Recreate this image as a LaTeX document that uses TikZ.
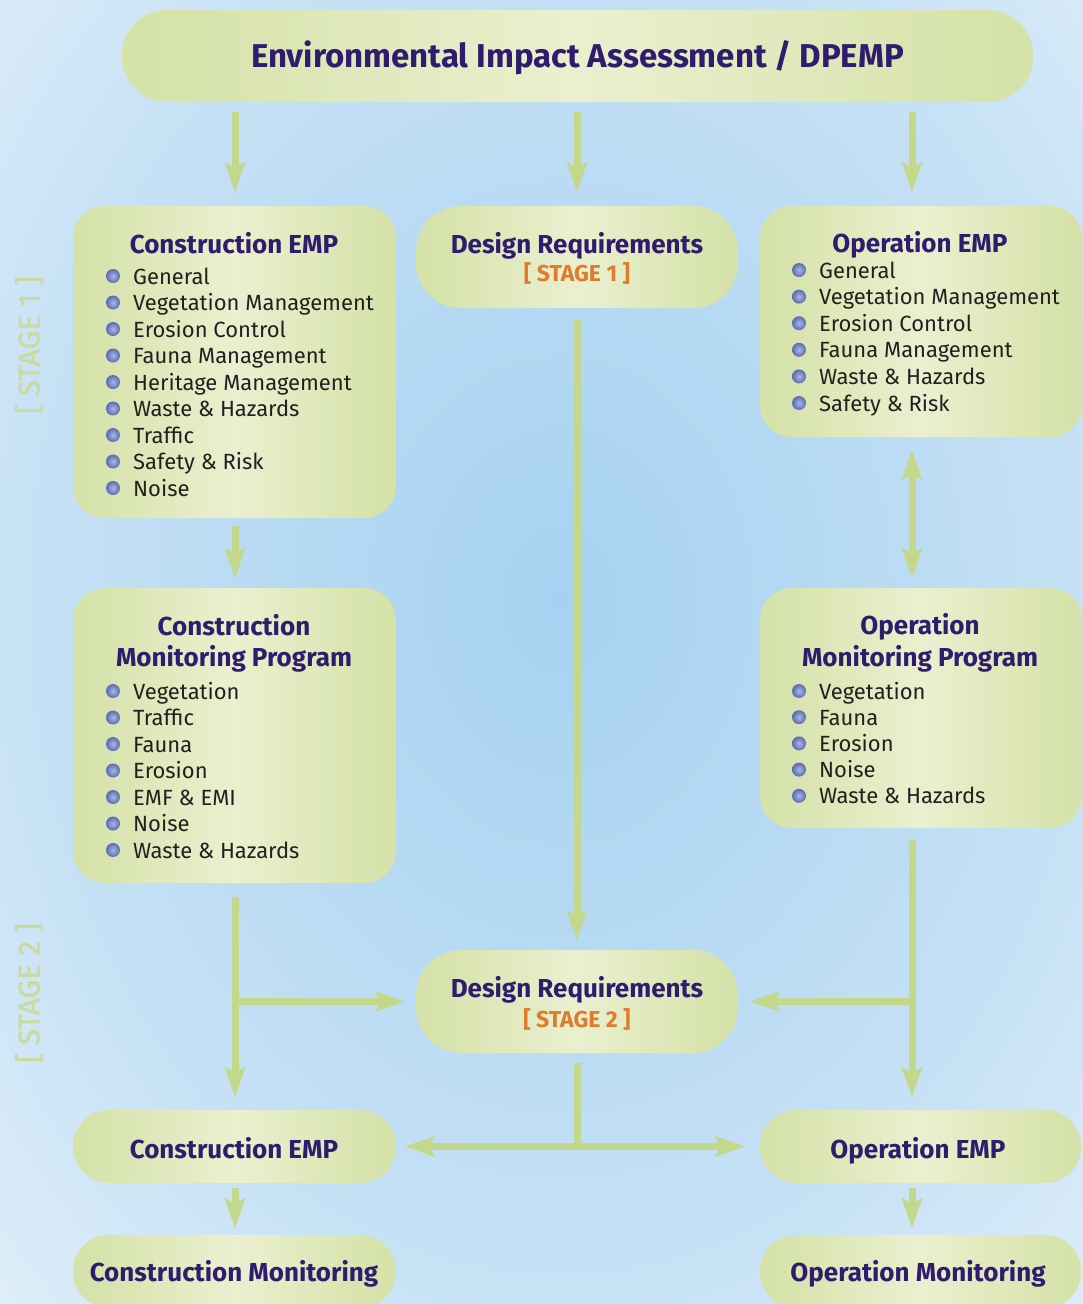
\documentclass[tikz,border=0pt]{standalone}
\usepackage{fontspec}
\setmainfont{Fira Sans}
\newfontfamily\sidefont[FakeBold=1.2]{Fira Sans}
\usetikzlibrary{arrows.meta}
\definecolor{bgin}{HTML}{A6D2F1}
\definecolor{bgmid}{HTML}{C6E1F5}
\definecolor{bgout}{HTML}{F6FAFD}
\definecolor{gdark}{HTML}{C9DA93}
\definecolor{glight}{HTML}{EAF0CF}
\definecolor{ink}{HTML}{2F1C6E}
\definecolor{txt}{HTML}{231F20}
\definecolor{arrc}{HTML}{C4D88C}
\definecolor{stagec}{HTML}{E07B2C}
\definecolor{sidec}{HTML}{C9DB9E}
\definecolor{bulin}{HTML}{AAB6E8}
\definecolor{bulout}{HTML}{5B6AB2}
\pgfdeclareradialshading{bgshade}{\pgfpoint{0bp}{0bp}}{color(0bp)=(bgin); color(22bp)=(bgmid); color(44bp)=(bgout); color(100bp)=(bgout)}
\pgfdeclarehorizontalshading{boxshade}{100bp}{color(0bp)=(gdark); color(28bp)=(gdark!60!glight); color(50bp)=(glight); color(72bp)=(gdark!60!glight); color(100bp)=(gdark)}
\begin{document}
\begin{tikzpicture}[x=1pt,y=-1pt,
  box/.style={rectangle, rounded corners=#1, draw=none, inner sep=0pt, shading=boxshade},
  hd/.style={font=\fontsize{26}{30}\selectfont\bfseries, text=ink, inner sep=0pt, anchor=base},
  topt/.style={font=\fontsize{33}{38}\selectfont\bfseries, text=ink, inner sep=0pt, anchor=base},
  stg/.style={font=\fontsize{23}{26}\selectfont\bfseries, text=stagec, inner sep=0pt, anchor=base},
  side/.style={font=\fontsize{30}{34}\sidefont, text=sidec, inner sep=0pt, rotate=90},
  it/.style={font=\fontsize{22}{26}\selectfont, text=txt, inner sep=0pt, anchor=base west},
  bul/.style={circle, minimum size=14pt, inner sep=0pt, inner color=bulin, outer color=bulout},
  >={Stealth[length=30pt,width=21pt,inset=6pt,line width=0.5pt]},
  arr/.style={draw=arrc, line width=7pt}
]
\path[use as bounding box, clip] (0,0) rectangle (1083,1304);
\shade[shading=bgshade] (-40,-160) rectangle (1160,1360);

% column coordinates
\coordinate (colC) at (235,0);
\coordinate (colD) at (577,0);
\coordinate (colO) at (912,0);

% boxes
\node[box=45pt, minimum width=911pt, minimum height=92pt] (top) at (577.5,56) {};
\node[box=32pt, minimum width=323pt, minimum height=312pt] (cemp) at (234.5,362) {};
\node[box=45pt, minimum width=322pt, minimum height=102pt] (des1) at (577,257) {};
\node[box=32pt, minimum width=322pt, minimum height=231pt] (opemp) at (921,321.5) {};
\node[box=32pt, minimum width=323pt, minimum height=295pt] (cmp) at (234.5,735.5) {};
\node[box=32pt, minimum width=322pt, minimum height=240pt] (omp) at (921,708) {};
\node[box=45pt, minimum width=322pt, minimum height=103pt] (des2) at (577,1001.5) {};
\node[box=36pt, minimum width=323pt, minimum height=73pt] (cemp2) at (234.5,1146.5) {};
\node[box=36pt, minimum width=321pt, minimum height=73pt] (opemp2) at (920.5,1146.5) {};
\node[box=36pt, minimum width=323pt, minimum height=73pt] (cmon) at (234.5,1271.5) {};
\node[box=36pt, minimum width=321pt, minimum height=73pt] (omon) at (920.5,1271.5) {};

% side labels
\node[side] (s1) at (29,345) {\selectfont [ STAGE 1 ]};
\node[side] (s2) at (29,993) {\selectfont [ STAGE 2 ]};

% headings
\node[topt] (topT) at (577.5,67) {Environmental Impact Assessment / DPEMP};
\node[hd] (cempT) at (234,253) {Construction EMP};
\node[hd] (des1T) at (577,253) {Design Requirements};
\node[stg] (des1S) at (577,281) {[ STAGE 1 ]};
\node[hd] (opempT) at (920,252) {Operation EMP};
\node[hd] (cmpT1) at (234,635) {Construction};
\node[hd] (cmpT2) at (234,666) {Monitoring Program};
\node[hd] (ompT1) at (920,634) {Operation};
\node[hd] (ompT2) at (920,666) {Monitoring Program};
\node[hd] (des2T) at (577,997) {Design Requirements};
\node[stg] (des2S) at (577,1027) {[ STAGE 2 ]};
\node[hd] (cemp2T) at (234,1158) {Construction EMP};
\node[hd] (opemp2T) at (918,1158) {Operation EMP};
\node[hd] (cmonT) at (234,1281) {Construction Monitoring};
\node[hd] (omonT) at (918,1281) {Operation Monitoring};

% lists
\foreach \t [count=\i] in {General,Vegetation Management,Erosion Control,Fauna Management,Heritage Management,Waste \& Hazards,Traffic,Safety \& Risk,Noise}{
  \node[bul] (ceb\i) at (113,{276+26.5*(\i-1)}) {};
  \node[it] (cet\i) at (133,{284+26.5*(\i-1)}) {\t};
}
\foreach \t [count=\i] in {General,Vegetation Management,Erosion Control,Fauna Management,Waste \& Hazards,Safety \& Risk}{
  \node[bul] (oeb\i) at (799,{270+26.6*(\i-1)}) {};
  \node[it] (oet\i) at (819,{278+26.6*(\i-1)}) {\t};
}
\foreach \t [count=\i] in {Vegetation,Traffic,Fauna,Erosion,EMF \& EMI,Noise,Waste \& Hazards}{
  \node[bul] (cmb\i) at (113,{691+26.5*(\i-1)}) {};
  \node[it] (cmt\i) at (133,{699+26.5*(\i-1)}) {\t};
}
\foreach \t [count=\i] in {Vegetation,Fauna,Erosion,Noise,Waste \& Hazards}{
  \node[bul] (omb\i) at (799,{691+26.2*(\i-1)}) {};
  \node[it] (omt\i) at (819,{699+26.2*(\i-1)}) {\t};
}

% connectors
\draw[arr,->,shorten <=10pt,shorten >=14pt] (top.south -| colC) -- (cemp.north -| colC);
\draw[arr,->,shorten <=10pt,shorten >=14pt] (top.south -| colD) -- (des1.north);
\draw[arr,->,shorten <=10pt,shorten >=14pt] (top.south -| colO) -- (opemp.north -| colO);
\draw[arr,->,shorten <=8pt,shorten >=10pt] (cemp.south -| colC) -- (cmp.north -| colC);
\draw[arr,<->,shorten <=13pt,shorten >=10pt] (opemp.south -| colO) -- (omp.north -| colO);
\draw[arr,->,shorten <=12pt,shorten >=10pt] (des1.south) -- (des2.north);
\draw[arr,->,shorten <=14pt,shorten >=13pt] (cmp.south -| colC) -- (cemp2.north -| colC);
\draw[arr,->,shorten >=11pt] (colC |- des2.west) -- (des2.west);
\draw[arr,->,shorten <=12pt,shorten >=13pt] (omp.south -| colO) -- (opemp2.north -| colO);
\draw[arr,->,shorten >=12pt] (colO |- des2.east) -- (des2.east);
\draw[arr,shorten <=10pt] (des2.south) -- (des2.south |- cemp2.east);
\draw[arr,<->,shorten <=9pt,shorten >=15pt] (cemp2.east) -- (opemp2.west);
\draw[arr,->,shorten <=5pt,shorten >=7pt] (cemp2.south -| colC) -- (cmon.north -| colC);
\draw[arr,->,shorten <=5pt,shorten >=7pt] (opemp2.south -| colO) -- (omon.north -| colO);
\end{tikzpicture}
\end{document}
